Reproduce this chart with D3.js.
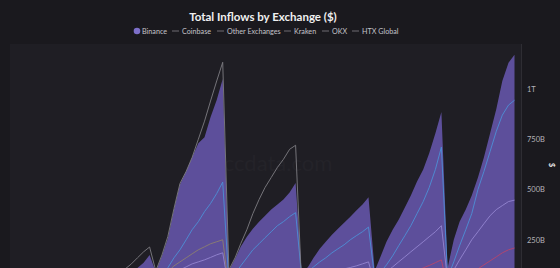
<!DOCTYPE html>
<html>
<head>
<meta charset="utf-8">
<script src="https://cdn.jsdelivr.net/npm/d3@7"></script>
<style>
  html, body { margin: 0; padding: 0; background: #1a191e; overflow: hidden; }
  svg { display: block; font-family: Lato, "Open Sans", sans-serif; }
</style>
</head>
<body>
<svg id="chart" width="560" height="268"></svg>
<script>
// Total inflows by exchange -- cumulative per calendar year, in $B

var years = [2018, 2019, 2020, 2021, 2022, 2023, 2024];
var exchanges = ["Binance", "Coinbase", "Other Exchanges", "Kraken", "OKX", "HTX Global"];
var yTicks = [250e9, 500e9, 750e9, 1e12];

// one row per year, Jan..Dec
var binance = [
  6, 12, 19, 26, 33, 40, 47, 54, 61, 68, 75, 82,
  8, 18, 28, 38, 48, 58, 68, 80, 95, 110, 135, 174,
  90, 170, 255, 400, 525, 590, 660, 730, 760, 860, 945, 1050,
  95, 155, 215, 265, 305, 340, 370, 400, 425, 450, 485, 532,
  80, 115, 160, 205, 240, 275, 305, 335, 365, 395, 425, 462,
  95, 170, 240, 300, 350, 410, 470, 540, 600, 680, 780, 885,
  110, 250, 340, 400, 470, 560, 660, 780, 900, 1040, 1130, 1170
];
var coinbase = [
  3, 6, 9, 12, 15, 18, 21, 24, 27, 30, 33, 36,
  4, 8, 12, 16, 20, 24, 28, 32, 36, 40, 45, 50,
  20, 60, 110, 160, 200, 250, 300, 340, 390, 430, 480, 537,
  40, 80, 120, 160, 200, 230, 260, 290, 320, 340, 365, 385,
  60, 90, 115, 140, 160, 185, 205, 225, 250, 270, 290, 313,
  60, 90, 125, 170, 220, 270, 320, 380, 440, 510, 600, 711,
  60, 140, 220, 300, 380, 500, 590, 690, 790, 870, 920, 944
];
var other = [
  8, 16, 24, 32, 40, 48, 56, 64, 72, 80, 88, 96,
  10, 20, 32, 45, 58, 72, 88, 105, 130, 160, 190, 214,
  95, 175, 265, 405, 530, 590, 660, 750, 840, 940, 1040, 1133,
  100, 160, 230, 300, 380, 450, 510, 560, 610, 650, 700, 720,
  8, 16, 25, 33, 42, 50, 58, 66, 74, 82, 90, 98,
  7, 14, 21, 28, 35, 42, 49, 56, 63, 70, 77, 85,
  8, 16, 24, 32, 40, 48, 56, 64, 72, 80, 88, 96
];
var kraken = [
  2, 4, 6, 8, 10, 12, 14, 16, 18, 20, 22, 24,
  3, 6, 9, 12, 15, 18, 21, 24, 27, 30, 33, 36,
  20, 40, 60, 80, 100, 115, 130, 140, 150, 162, 175, 185,
  10, 20, 30, 40, 48, 56, 64, 72, 80, 88, 95, 100,
  20, 35, 50, 62, 74, 85, 95, 105, 112, 120, 130, 140,
  30, 60, 90, 115, 140, 165, 190, 215, 240, 265, 290, 320,
  50, 100, 150, 200, 250, 290, 330, 370, 400, 420, 440, 447
];
var okx = [
  2, 4, 6, 8, 10, 12, 14, 16, 18, 20, 22, 24,
  3, 6, 9, 12, 15, 18, 21, 24, 27, 30, 33, 36,
  5, 10, 15, 20, 25, 30, 35, 40, 45, 50, 55, 60,
  8, 16, 24, 32, 40, 48, 56, 64, 72, 80, 88, 96,
  6, 12, 18, 24, 30, 36, 42, 48, 54, 60, 66, 72,
  10, 20, 30, 42, 55, 68, 80, 95, 110, 122, 136, 150,
  10, 20, 35, 55, 80, 105, 125, 145, 165, 185, 200, 209
];
var htx = [
  4, 8, 12, 16, 20, 24, 28, 32, 36, 40, 44, 48,
  5, 10, 15, 20, 25, 30, 35, 40, 45, 50, 55, 60,
  30, 60, 90, 120, 140, 160, 180, 200, 215, 230, 240, 250,
  8, 16, 24, 32, 40, 48, 56, 64, 72, 80, 88, 96,
  4, 8, 12, 16, 20, 24, 28, 32, 36, 40, 44, 48,
  3, 6, 9, 12, 15, 18, 21, 24, 27, 30, 33, 36,
  2, 4, 6, 8, 10, 12, 14, 16, 18, 20, 22, 24
];

var months = [];
years.forEach(function (y) {
  for (var m = 0; m < 12; m++) months.push(new Date(y, m, 1));
});

var lineSeries = [
  {name: "Coinbase", values: coinbase, color: "#4d8fd6"},
  {name: "Other Exchanges", values: other, color: "#7d7c82"},
  {name: "Kraken", values: kraken, color: "#9485d0"},
  {name: "OKX", values: okx, color: "#b8456a"},
  {name: "HTX Global", values: htx, color: "#8c7e70"}
];

var svg = d3.select("#chart");
var plot = {left: 10, right: 521, top: 44, bottom: 290};

var x = d3.scaleTime()
  .domain([months[0], months[months.length - 1]])
  .range([10, 514.5]);
var y = d3.scaleLinear()
  .domain([0, 1e12])
  .range([290, 89]);

// panel
svg.append("rect")
  .attr("x", plot.left).attr("y", plot.top)
  .attr("width", plot.right - plot.left).attr("height", plot.bottom - plot.top)
  .attr("fill", "#1f1e24");

// faint watermark
svg.append("text")
  .attr("x", 278).attr("y", 171)
  .attr("text-anchor", "middle")
  .attr("font-size", 22)
  .attr("fill", "#242329")
  .text("ccdata.com");

svg.append("clipPath").attr("id", "clip")
  .append("rect")
  .attr("x", plot.left).attr("y", plot.top)
  .attr("width", plot.right - plot.left).attr("height", plot.bottom - plot.top);

var g = svg.append("g").attr("clip-path", "url(#clip)");

// Binance area
var area = d3.area()
  .x(function (d, i) { return x(months[i]); })
  .y0(y(0))
  .y1(function (d) { return y(d * 1e9); });

g.append("path")
  .datum(binance)
  .attr("d", area)
  .attr("fill", "#6656ac")
  .attr("fill-opacity", 0.88);

// other exchanges as lines
var line = d3.line()
  .x(function (d, i) { return x(months[i]); })
  .y(function (d) { return y(d * 1e9); });

lineSeries.forEach(function (s) {
  g.append("path")
    .datum(s.values)
    .attr("d", line)
    .attr("fill", "none")
    .attr("stroke", s.color)
    .attr("stroke-width", 1)
    .attr("stroke-opacity", 0.9);
});

// y axis on the right
svg.append("line")
  .attr("x1", plot.right + 0.5).attr("x2", plot.right + 0.5)
  .attr("y1", plot.top).attr("y2", 268)
  .attr("stroke", "#2e2d33");

var fmt = function (v) { return v >= 1e12 ? (v / 1e12) + "T" : (v / 1e9) + "B"; };
var yAxis = svg.append("g")
  .attr("transform", "translate(" + (plot.right + 3) + ",0)")
  .call(d3.axisRight(y).tickValues(yTicks).tickFormat(fmt).tickSize(0));
yAxis.select(".domain").remove();
yAxis.selectAll("text")
  .attr("fill", "#b4b3b9")
  .attr("font-size", 7.5)
  .attr("font-family", "Lato, sans-serif");

svg.append("text")
  .attr("transform", "translate(549,165) rotate(90)")
  .attr("text-anchor", "middle")
  .attr("font-size", 8)
  .attr("font-weight", "bold")
  .attr("fill", "#dddddd")
  .text("$");

// title
svg.append("text")
  .attr("x", 263).attr("y", 21)
  .attr("text-anchor", "middle")
  .attr("font-size", 11.5)
  .attr("font-weight", "bold")
  .attr("fill", "#f0f0f0")
  .text("Total Inflows by Exchange ($)");

// legend
var legendX = [137, 172, 217, 284, 322, 352];
var legend = svg.append("g");
exchanges.forEach(function (name, i) {
  var lg = legend.append("g").attr("transform", "translate(" + legendX[i] + ",31)");
  if (i === 0) {
    lg.append("circle").attr("r", 3.3).attr("fill", "#7d6fc9");
  } else {
    lg.append("line").attr("x1", 0).attr("x2", 7)
      .attr("stroke", "#6e6d73").attr("stroke-width", 1);
  }
  lg.append("text")
    .attr("x", i === 0 ? 5 : 10).attr("y", 2.6)
    .attr("font-size", 7.2)
    .attr("fill", "#c4c3c9")
    .text(name);
});
</script>
</body>
</html>
